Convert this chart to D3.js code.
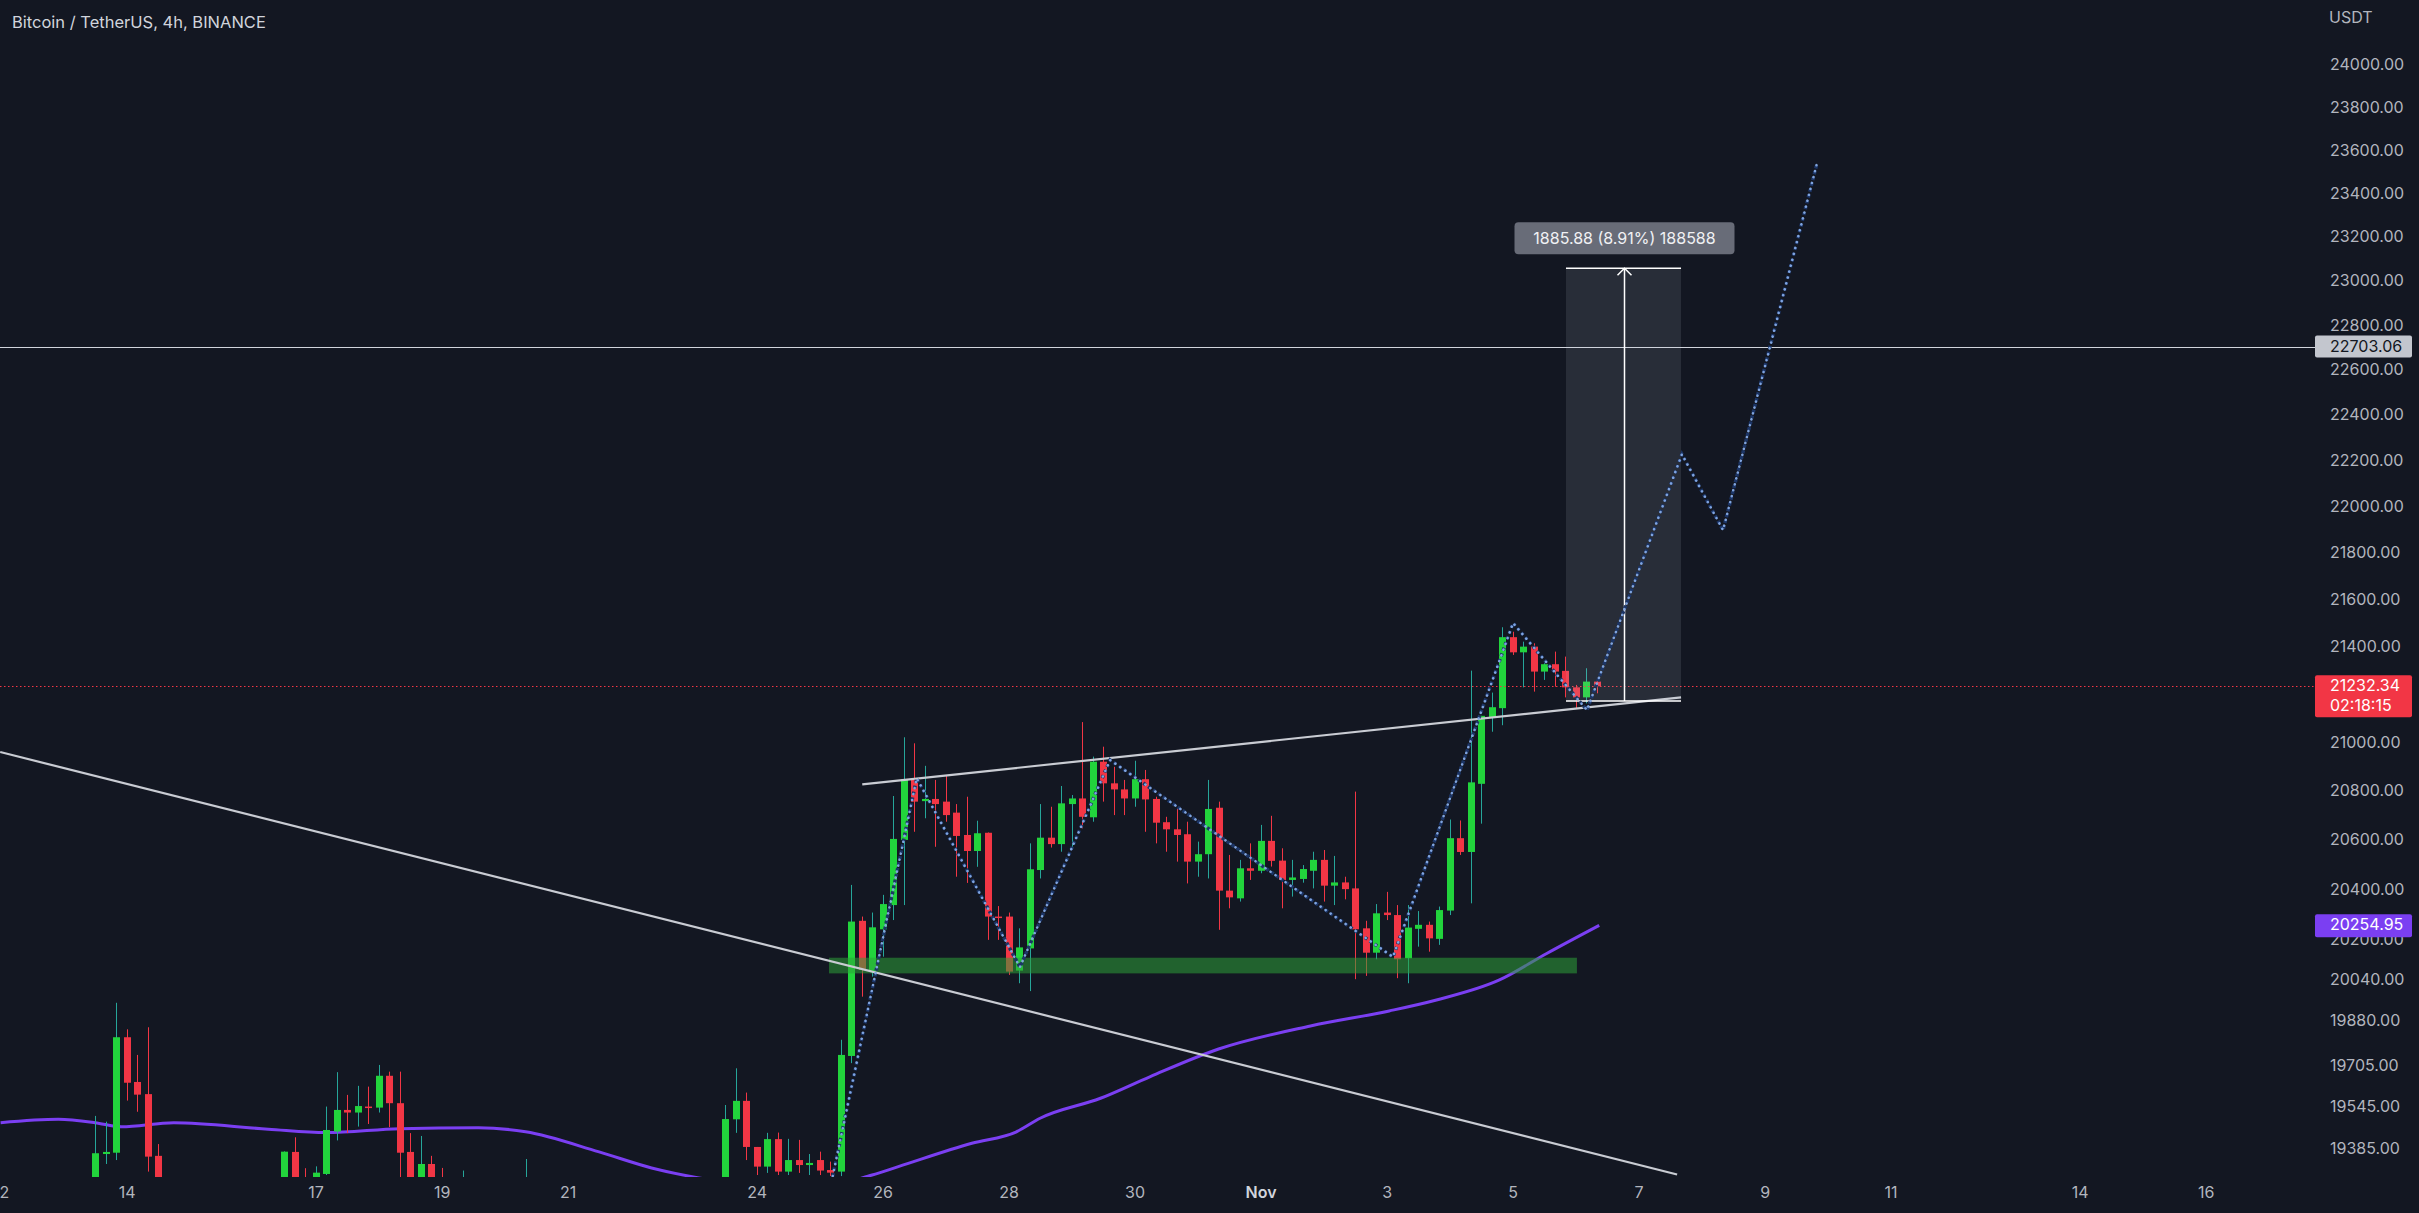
<!DOCTYPE html>
<html><head><meta charset="utf-8">
<script src="https://cdn.jsdelivr.net/npm/d3@7"></script>
<style>html,body{margin:0;padding:0;background:#131722;overflow:hidden}</style>
</head><body>
<svg id="chart" width="2419" height="1213"></svg>
<script>
// ---------------- DATA ----------------
const title = "Bitcoin / TetherUS, 4h, BINANCE";
const currency = "USDT";
// [time, open, high, low, close]
const candles = [
["2022-10-13T12:00",19230,19508,19180,19365],
["2022-10-13T16:00",19362,19486,19324,19370],
["2022-10-13T20:00",19367,19948,19339,19813],
["2022-10-14T00:00",19813,19844,19567,19636],
["2022-10-14T04:00",19639,19744,19524,19590],
["2022-10-14T08:00",19592,19852,19295,19352],
["2022-10-14T12:00",19355,19400,19200,19230],
["2022-10-16T12:00",19240,19372,19200,19371],
["2022-10-16T16:00",19370,19426,19200,19250],
["2022-10-16T20:00",19270,19308,19230,19260],
["2022-10-17T00:00",19270,19315,19250,19291],
["2022-10-17T04:00",19286,19544,19282,19454],
["2022-10-17T08:00",19448,19677,19414,19531],
["2022-10-17T12:00",19531,19589,19442,19521],
["2022-10-17T16:00",19521,19624,19467,19546],
["2022-10-17T20:00",19544,19621,19477,19539],
["2022-10-18T00:00",19540,19705,19521,19663],
["2022-10-18T04:00",19663,19679,19465,19557],
["2022-10-18T08:00",19557,19679,19250,19367],
["2022-10-18T12:00",19370,19442,19220,19260],
["2022-10-18T16:00",19260,19431,19230,19324],
["2022-10-18T20:00",19324,19355,19240,19265],
["2022-10-19T00:00",19270,19309,19230,19260],
["2022-10-19T08:00",19250,19299,19220,19260],
["2022-10-20T08:00",19240,19343,19200,19260],
["2022-10-23T12:00",19260,19550,19230,19496],
["2022-10-23T16:00",19495,19692,19443,19566],
["2022-10-23T20:00",19566,19598,19339,19389],
["2022-10-24T00:00",19389,19389,19282,19314],
["2022-10-24T04:00",19314,19443,19290,19419],
["2022-10-24T08:00",19419,19444,19282,19295],
["2022-10-24T12:00",19295,19420,19282,19339],
["2022-10-24T16:00",19339,19416,19290,19320],
["2022-10-24T20:00",19320,19362,19282,19328],
["2022-10-25T00:00",19339,19371,19282,19299],
["2022-10-25T04:00",19301,19333,19278,19291],
["2022-10-25T08:00",19295,19803,19278,19744],
["2022-10-25T12:00",19740,20417,19712,20270],
["2022-10-25T16:00",20273,20290,19972,20078],
["2022-10-25T20:00",20071,20306,20051,20247],
["2022-10-26T00:00",20239,20377,20130,20340],
["2022-10-26T04:00",20336,20778,20276,20603],
["2022-10-26T08:00",20599,21020,20336,20847],
["2022-10-26T12:00",20847,20995,20632,20755],
["2022-10-26T16:00",20757,20902,20687,20766],
["2022-10-26T20:00",20766,20844,20571,20745],
["2022-10-27T00:00",20755,20864,20673,20700],
["2022-10-27T04:00",20710,20745,20450,20615],
["2022-10-27T08:00",20619,20775,20425,20554],
["2022-10-27T12:00",20554,20677,20490,20626],
["2022-10-27T16:00",20628,20629,20197,20290],
["2022-10-27T20:00",20290,20332,20197,20286],
["2022-10-28T00:00",20290,20306,20058,20071],
["2022-10-28T04:00",20075,20243,20025,20167],
["2022-10-28T08:00",20163,20585,19994,20480],
["2022-10-28T12:00",20477,20745,20443,20608],
["2022-10-28T16:00",20608,20734,20568,20582],
["2022-10-28T20:00",20582,20819,20551,20748],
["2022-10-29T00:00",20745,20782,20571,20768],
["2022-10-29T04:00",20768,21083,20646,20693],
["2022-10-29T08:00",20691,20940,20673,20919],
["2022-10-29T12:00",20919,20981,20755,20830],
["2022-10-29T16:00",20830,20898,20700,20805],
["2022-10-29T20:00",20805,20844,20700,20768],
["2022-10-30T00:00",20768,20923,20734,20847],
["2022-10-30T04:00",20847,20885,20632,20764],
["2022-10-30T08:00",20766,20775,20585,20669],
["2022-10-30T12:00",20671,20693,20551,20642],
["2022-10-30T16:00",20642,20728,20511,20619],
["2022-10-30T20:00",20622,20673,20423,20511],
["2022-10-31T00:00",20511,20592,20450,20541],
["2022-10-31T04:00",20541,20844,20443,20725],
["2022-10-31T08:00",20730,20755,20237,20394],
["2022-10-31T12:00",20394,20538,20323,20367],
["2022-10-31T16:00",20363,20518,20350,20484],
["2022-10-31T20:00",20484,20585,20437,20474],
["2022-11-01T00:00",20474,20660,20464,20595],
["2022-11-01T04:00",20595,20697,20491,20514],
["2022-11-01T08:00",20515,20565,20323,20437],
["2022-11-01T12:00",20437,20518,20370,20447],
["2022-11-01T16:00",20441,20497,20426,20481],
["2022-11-01T20:00",20474,20551,20403,20518],
["2022-11-02T00:00",20518,20558,20350,20414],
["2022-11-02T04:00",20414,20534,20336,20427],
["2022-11-02T08:00",20427,20450,20359,20400],
["2022-11-02T12:00",20403,20796,20041,20239],
["2022-11-02T16:00",20243,20273,20054,20146],
["2022-11-02T20:00",20146,20340,20120,20303],
["2022-11-03T00:00",20306,20389,20276,20296],
["2022-11-03T04:00",20296,20336,20045,20120],
["2022-11-03T08:00",20124,20336,20025,20246],
["2022-11-03T12:00",20241,20312,20170,20257],
["2022-11-03T16:00",20257,20270,20150,20203],
["2022-11-03T20:00",20201,20330,20177,20316],
["2022-11-04T00:00",20314,20682,20296,20606],
["2022-11-04T04:00",20606,20678,20538,20550],
["2022-11-04T08:00",20550,21298,20343,20834],
["2022-11-04T12:00",20828,21109,20665,21109],
["2022-11-04T16:00",21103,21206,21043,21145],
["2022-11-04T20:00",21141,21481,21070,21439],
["2022-11-05T00:00",21439,21462,21364,21375],
["2022-11-05T04:00",21375,21420,21228,21399],
["2022-11-05T08:00",21399,21413,21210,21294],
["2022-11-05T12:00",21294,21329,21259,21325],
["2022-11-05T16:00",21325,21378,21231,21294],
["2022-11-05T20:00",21297,21357,21186,21228],
["2022-11-06T00:00",21228,21238,21141,21186],
["2022-11-06T04:00",21186,21308,21161,21252],
["2022-11-06T08:00",21252,21259,21203,21232.34]
];
// moving average (purple)
const maPoints = [
["2022-10-12T00:00",19482],["2022-10-12T22:00",19495],["2022-10-13T12:00",19482],
["2022-10-13T22:00",19466],["2022-10-14T18:00",19482],["2022-10-16T06:00",19457],
["2022-10-17T04:00",19444],["2022-10-18T08:00",19459],["2022-10-19T14:00",19463],
["2022-10-20T08:00",19447],["2022-10-21T12:00",19370],["2022-10-22T08:00",19309],
["2022-10-23T02:00",19271],["2022-10-24T04:00",19240],["2022-10-25T00:00",19238],
["2022-10-25T20:00",19282],["2022-10-26T06:00",19314],["2022-10-27T10:00",19403],
["2022-10-28T03:00",19447],["2022-10-28T12:00",19499],["2022-10-29T11:00",19576],
["2022-10-30T06:00",19660],["2022-10-31T08:00",19767],["2022-11-01T19:00",19857],
["2022-11-03T01:00",19916],["2022-11-03T19:00",19959],["2022-11-04T19:00",20038],
["2022-11-05T13:00",20143],["2022-11-06T09:00",20254.95]
];
const priceTicks = [24000,23800,23600,23400,23200,23000,22800,22600,22400,22200,22000,
  21800,21600,21400,21000,20800,20600,20400,20200,20040,19880,19705,19545,19385];
const timeTicks = [["2022-10-12T00:00","12"],["2022-10-14T00:00","14"],["2022-10-17T00:00","17"],
  ["2022-10-19T00:00","19"],["2022-10-21T00:00","21"],["2022-10-24T00:00","24"],
  ["2022-10-26T00:00","26"],["2022-10-28T00:00","28"],["2022-10-30T00:00","30"],
  ["2022-11-01T00:00","Nov"],["2022-11-03T00:00","3"],["2022-11-05T00:00","5"],
  ["2022-11-07T00:00","7"],["2022-11-09T00:00","9"],["2022-11-11T00:00","11"],
  ["2022-11-14T00:00","14"],["2022-11-16T00:00","16"]];
const lastPrice = 21232.34;
const countdown = "02:18:15";
const maLast = 20254.95;
const levelLine = 22703.06;
const downTrend = [["2022-10-11T23:50",20959],["2022-11-07T14:40",19284]];
const upTrend = [["2022-10-25T16:15",20826],["2022-11-07T16:10",21186]];
const supportZone = {from:"2022-10-25T03:35", to:"2022-11-06T00:30", low:20064, high:20126};
const priceRange = {from:"2022-11-05T20:20", to:"2022-11-07T16:10", mid:"2022-11-06T18:15",
  low:21170.42, high:23056.30, label:"1885.88 (8.91%) 188588"};
const projection = [
["2022-10-25T05:00",19278],["2022-10-26T13:00",20851],["2022-10-28T04:20",20089],
["2022-10-29T14:40",20926],["2022-11-03T02:25",20129],["2022-11-05T00:10",21499],
["2022-11-06T04:20",21133],["2022-11-07T16:30",22226],["2022-11-08T08:10",21896],
["2022-11-09T20:00",23540]];

// ---------------- CHART ----------------
const parse = d3.utcParse("%Y-%m-%dT%H:%M");
const W = 2419, H = 1213, plotR = 2315, plotB = 1177;
const FONT = "Inter, 'Noto Sans', sans-serif";
const svg = d3.select("#chart");
svg.append("rect").attr("width", W).attr("height", H).attr("fill", "#131722");

const x = d3.scaleUtc().domain([parse("2022-10-12T00:00"), parse("2022-11-16T00:00")]).range([0.6, 2205.6]);
const y = d3.scaleLog().domain([19385, 24000]).range([1148, 64.8]);

svg.append("defs").append("clipPath").attr("id", "plot")
  .append("rect").attr("x", 0).attr("y", 0).attr("width", plotR).attr("height", plotB);
const plot = svg.append("g").attr("clip-path", "url(#plot)");

// moving average
plot.append("path").datum(maPoints)
  .attr("d", d3.line().x(d => x(parse(d[0]))).y(d => y(d[1])).curve(d3.curveMonotoneX))
  .attr("fill", "none").attr("stroke", "#7b3ff2").attr("stroke-width", 3);

// candles
const cd = candles.map(d => ({t: parse(d[0]), o: d[1], h: d[2], l: d[3], c: d[4]}));
const up = d => d.c >= d.o;
const cx = d => Math.round(x(d.t));
plot.append("g").selectAll("line").data(cd).join("line")
  .attr("x1", d => cx(d) + 0.5).attr("x2", d => cx(d) + 0.5)
  .attr("y1", d => y(d.h)).attr("y2", d => y(d.l))
  .attr("stroke", d => up(d) ? "#26a69a" : "#f23645").attr("stroke-width", 1);
plot.append("g").selectAll("rect").data(cd).join("rect")
  .attr("x", d => cx(d) - 3).attr("width", 7)
  .attr("y", d => y(Math.max(d.o, d.c)))
  .attr("height", d => Math.max(1.5, Math.abs(y(d.o) - y(d.c))))
  .attr("fill", d => up(d) ? "#22d43c" : "#f23645");

// support zone
plot.append("rect")
  .attr("x", x(parse(supportZone.from))).attr("width", x(parse(supportZone.to)) - x(parse(supportZone.from)))
  .attr("y", y(supportZone.high)).attr("height", y(supportZone.low) - y(supportZone.high))
  .attr("fill", "rgba(46,160,56,0.55)");

// trend lines
[downTrend, upTrend].forEach(tl => {
  plot.append("line")
    .attr("x1", x(parse(tl[0][0]))).attr("y1", y(tl[0][1]))
    .attr("x2", x(parse(tl[1][0]))).attr("y2", y(tl[1][1]))
    .attr("stroke", "#c9ccd3").attr("stroke-width", 2.2);
});

// horizontal level line
plot.append("line").attr("x1", 0).attr("x2", plotR)
  .attr("y1", Math.round(y(levelLine)) + 0.5).attr("y2", Math.round(y(levelLine)) + 0.5)
  .attr("stroke", "#d1d4dc").attr("stroke-width", 1);

// current price line
plot.append("line").attr("x1", 0).attr("x2", plotR)
  .attr("y1", Math.round(y(lastPrice)) + 0.5).attr("y2", Math.round(y(lastPrice)) + 0.5)
  .attr("stroke", "#f23645").attr("stroke-width", 1).attr("stroke-dasharray", "1.5 2.5");

// price range measurement
const rx0 = x(parse(priceRange.from)), rx1 = x(parse(priceRange.to)), rxm = Math.round(x(parse(priceRange.mid))) + 0.5;
const ry0 = y(priceRange.high), ry1 = y(priceRange.low);
plot.append("rect").attr("x", rx0).attr("y", ry0).attr("width", rx1 - rx0).attr("height", ry1 - ry0)
  .attr("fill", "rgba(200,205,220,0.12)");
plot.append("line").attr("x1", rx0).attr("x2", rx1).attr("y1", ry0).attr("y2", ry0).attr("stroke", "#ffffff").attr("stroke-width", 1.5);
plot.append("line").attr("x1", rx0).attr("x2", rx1).attr("y1", ry1).attr("y2", ry1).attr("stroke", "#ffffff").attr("stroke-width", 1.5);
plot.append("line").attr("x1", rxm).attr("x2", rxm).attr("y1", ry1).attr("y2", ry0).attr("stroke", "#ffffff").attr("stroke-width", 1.5);
plot.append("path").attr("d", `M${rxm - 7},${ry0 + 7}L${rxm},${ry0}L${rxm + 7},${ry0 + 7}`)
  .attr("fill", "none").attr("stroke", "#ffffff").attr("stroke-width", 1.5);

// projection path (dotted)
plot.append("path").datum(projection)
  .attr("d", d3.line().x(d => x(parse(d[0]))).y(d => y(d[1])))
  .attr("fill", "none").attr("stroke", "#1c3566").attr("stroke-width", 3.5)
  .attr("stroke-dasharray", "3 3");
plot.append("path").datum(projection)
  .attr("d", d3.line().x(d => x(parse(d[0]))).y(d => y(d[1])))
  .attr("fill", "none").attr("stroke", "#7fa4e0").attr("stroke-width", 2.6)
  .attr("stroke-linecap", "round").attr("stroke-dasharray", "0.1 6");

// range label
const lblW = 220, lblH = 32;
const lg = svg.append("g");
lg.append("rect").attr("x", rxm - lblW / 2).attr("y", ry0 - 46).attr("width", lblW).attr("height", lblH)
  .attr("rx", 4).attr("fill", "#686c78");
lg.append("text").attr("x", rxm).attr("y", ry0 - 24).attr("text-anchor", "middle")
  .attr("font-family", FONT).attr("font-size", 16).attr("fill", "#f0f1f4").text(priceRange.label);

// title
svg.append("text").attr("x", 12).attr("y", 28).attr("font-family", FONT).attr("font-size", 16.5)
  .attr("fill", "#d1d4dc").text(title);

// right price axis
const yAxis = d3.axisRight(y).tickValues(priceTicks).tickFormat(d => d.toFixed(2)).tickSize(0).tickPadding(0);
const ya = svg.append("g").attr("transform", "translate(2330,0)").call(yAxis);
ya.select(".domain").remove();
ya.selectAll("text").attr("font-family", FONT).attr("font-size", 16).attr("fill", "#b2b5be");
svg.append("text").attr("x", 2329).attr("y", 23).attr("font-family", FONT).attr("font-size", 16)
  .attr("fill", "#b2b5be").text(currency);

// price badges
function badge(price, fill, color, lines, h) {
  const top = y(price) - 11;
  svg.append("rect").attr("x", 2315).attr("y", top).attr("width", 97).attr("height", h)
    .attr("rx", 2).attr("fill", fill);
  lines.forEach((t, i) => {
    svg.append("text").attr("x", 2330).attr("y", top + 16 + i * 20)
      .attr("font-family", FONT).attr("font-size", 16).attr("fill", color).text(t);
  });
}
badge(levelLine, "#c3c6ce", "#131722", [levelLine.toFixed(2)], 22);
badge(lastPrice, "#f23645", "#ffffff", [lastPrice.toFixed(2), countdown], 42);
badge(maLast, "#7b3ff2", "#ffffff", [maLast.toFixed(2)], 23);

// time axis
const tickDates = timeTicks.map(d => parse(d[0]));
const tickLabel = new Map(timeTicks.map(d => [+parse(d[0]), d[1]]));
const xAxis = d3.axisBottom(x).tickValues(tickDates).tickFormat(d => tickLabel.get(+d)).tickSize(0).tickPadding(0);
const xa = svg.append("g").attr("transform", "translate(0,1187)").call(xAxis);
xa.select(".domain").remove();
xa.selectAll("text").attr("font-family", FONT).attr("font-size", 16).attr("fill", "#b2b5be")
  .filter(function() { return this.textContent === "Nov"; }).attr("font-weight", 600).attr("fill", "#d1d4dc");
</script>
</body></html>
